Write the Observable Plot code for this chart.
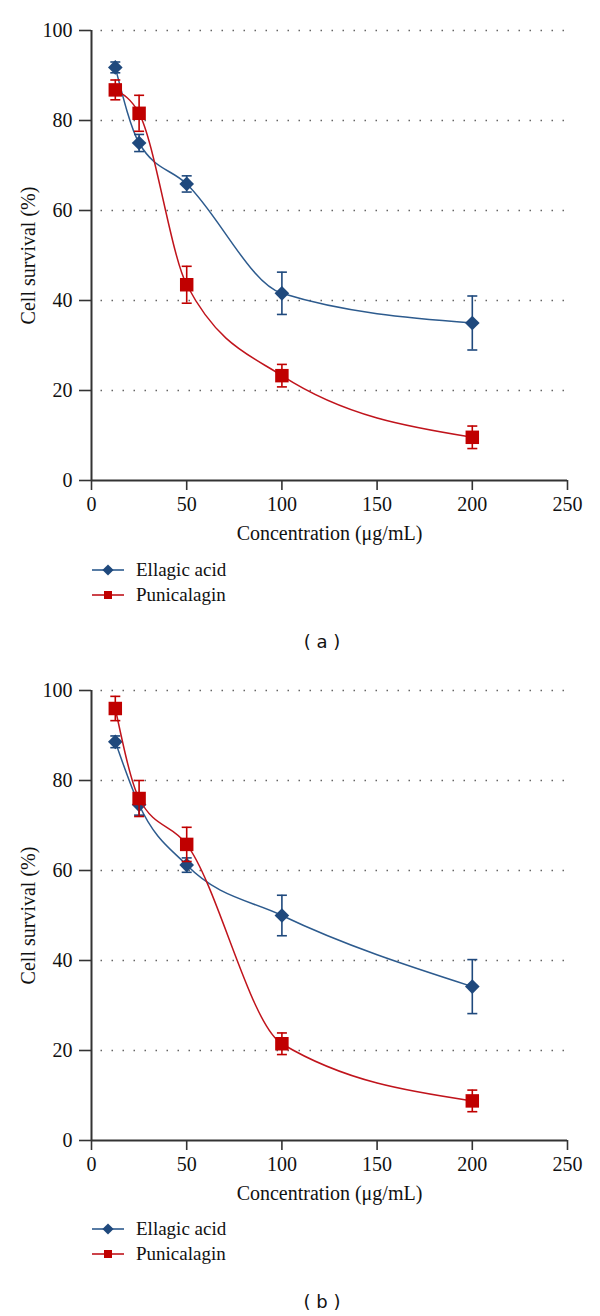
<!DOCTYPE html>
<html>
<head>
<meta charset="utf-8">
<script src="https://cdn.jsdelivr.net/npm/d3@7"></script>
<script src="https://cdn.jsdelivr.net/npm/@observablehq/plot@0.6"></script>
<style>
  body { margin: 0; background: #fff; }
  #root { position: relative; width: 600px; height: 1316px; overflow: hidden; }
  .panel { position: absolute; left: 0; width: 600px; height: 659px; }
  .panel > svg.plot { position: absolute; left: 0; top: 0; }
  .legend { position: absolute; left: 92px; top: 557px; font-family: "Liberation Serif", "DejaVu Serif", serif; font-size: 19px; color: #111; }
  .item { display: flex; align-items: center; height: 25px; }
  .item svg { margin-right: 12px; }
  .caption { position: absolute; left: 282px; width: 80px; top: 631px; text-align: center; font-family: "DejaVu Sans", sans-serif; font-size: 18px; color: #111; white-space: pre; }
</style>
</head>
<body>
<div id="root"></div>
<script>
// ---- Data ----
const concentrations = [12.5, 25, 50, 100, 200];           // µg/mL
const seriesNames = ["Ellagic acid", "Punicalagin"];
const xTicks = [0, 50, 100, 150, 200, 250];
const yTicks = [0, 20, 40, 60, 80, 100];
const panelLabels = ["( a )", "( b )"];

// panel (a)
const aEllagic    = [91.8, 75.0, 65.9, 41.6, 35.0];
const aEllagicErr = [1.2, 1.9, 1.8, 4.7, 6.0];
const aPunic      = [86.8, 81.6, 43.5, 23.3, 9.6];
const aPunicErr   = [2.2, 4.0, 4.1, 2.5, 2.5];
// panel (b)
const bEllagic    = [88.6, 74.6, 61.2, 50.0, 34.2];
const bEllagicErr = [1.3, 2.3, 1.6, 4.5, 6.0];
const bPunic      = [96.0, 76.0, 65.8, 21.5, 8.8];
const bPunicErr   = [2.7, 4.0, 3.8, 2.4, 2.4];

// ---- Styles ----
const COLORS = { "Ellagic acid": { mark: "#1f497d", line: "#2d5b8e" },
                 "Punicalagin":  { mark: "#c00000", line: "#c0141c" } };
const SYMBOLS = { "Ellagic acid": "diamond2", "Punicalagin": "square" };
const RADII = { "Ellagic acid": 6.6, "Punicalagin": 7.6 };

const capSymbol = { draw(ctx, size) { const w = 5; ctx.moveTo(-w, 0); ctx.lineTo(w, 0); } };

function rowsFor(values, errs, name) {
  return concentrations.map((c, i) => ({ x: c, y: values[i], err: errs[i], series: name }));
}

function seriesMarks(rows, name) {
  const c = COLORS[name];
  const caps = rows.flatMap(d => [{ x: d.x, y: d.y + d.err }, { x: d.x, y: d.y - d.err }]);
  return [
    Plot.line(rows, { x: "x", y: "y", stroke: c.line, strokeWidth: 1.5, curve: "monotone-x" }),
    Plot.ruleX(rows, { x: "x", y1: d => d.y - d.err, y2: d => d.y + d.err, stroke: c.mark, strokeWidth: 1.6 }),
    Plot.dot(caps, { x: "x", y: "y", symbol: capSymbol, r: 3, stroke: c.mark, strokeWidth: 1.6, fill: "none" }),
    Plot.dot(rows, { x: "x", y: "y", symbol: SYMBOLS[name], r: RADII[name], fill: c.mark, stroke: "none" })
  ];
}

function makePlot(ell, ellErr, pun, punErr) {
  const ellRows = rowsFor(ell, ellErr, seriesNames[0]);
  const punRows = rowsFor(pun, punErr, seriesNames[1]);
  return Plot.plot({
    width: 600,
    height: 550,
    marginTop: 30,
    marginBottom: 70,
    marginLeft: 91,
    marginRight: 33,
    style: { fontFamily: "'Liberation Serif', 'DejaVu Serif', serif", fontSize: "20px", color: "#111", background: "#fff" },
    x: { domain: [0, 250] },
    y: { domain: [0, 100] },
    marks: [
      Plot.gridY(yTicks.filter(t => t > 0), { stroke: "#666", strokeOpacity: 1, strokeWidth: 1.5, strokeDasharray: "1.5,9.5", strokeDashoffset: 1.5 }),
      Plot.axisX({ ticks: xTicks, tickSize: 10, tickPadding: 6, stroke: "#333", strokeWidth: 1.6, fontSize: 20,
                   label: "Concentration (μg/mL)", labelAnchor: "center", labelOffset: 59, labelArrow: "none" }),
      Plot.axisY({ ticks: yTicks, tickSize: 12, tickPadding: 7, stroke: "#333", strokeWidth: 1.6, fontSize: 20,
                   label: "Cell survival (%)", labelAnchor: "center", labelOffset: 71, labelArrow: "none" }),
      Plot.ruleY([0], { stroke: "#333", strokeWidth: 2 }),
      Plot.ruleX([0], { stroke: "#333", strokeWidth: 2 }),
      ...seriesMarks(ellRows, seriesNames[0]),
      ...seriesMarks(punRows, seriesNames[1])
    ]
  });
}

function swatch(name) {
  const c = COLORS[name];
  const ns = "http://www.w3.org/2000/svg";
  const svg = document.createElementNS(ns, "svg");
  svg.setAttribute("width", 32); svg.setAttribute("height", 16);
  const line = document.createElementNS(ns, "line");
  line.setAttribute("x1", 0); line.setAttribute("x2", 32); line.setAttribute("y1", 8); line.setAttribute("y2", 8);
  line.setAttribute("stroke", c.line); line.setAttribute("stroke-width", 1.6);
  svg.appendChild(line);
  const p = document.createElementNS(ns, "path");
  p.setAttribute("d", d3.symbol(name === "Ellagic acid" ? d3.symbolDiamond2 : d3.symbolSquare, name === "Ellagic acid" ? 80 : 64)());
  p.setAttribute("transform", "translate(16,8)");
  p.setAttribute("fill", c.mark);
  svg.appendChild(p);
  return svg;
}

const root = document.getElementById("root");
const panels = [
  [aEllagic, aEllagicErr, aPunic, aPunicErr],
  [bEllagic, bEllagicErr, bPunic, bPunicErr]
];
panels.forEach((p, i) => {
  const div = document.createElement("div");
  div.className = "panel";
  div.style.top = (i * 659.5) + "px";
  const chart = makePlot(...p);
  chart.classList.add("plot");
  div.appendChild(chart);
  const legend = document.createElement("div");
  legend.className = "legend";
  seriesNames.forEach(n => {
    const it = document.createElement("div");
    it.className = "item";
    it.appendChild(swatch(n));
    const t = document.createElement("span");
    t.textContent = n;
    it.appendChild(t);
    legend.appendChild(it);
  });
  div.appendChild(legend);
  const cap = document.createElement("div");
  cap.className = "caption";
  cap.textContent = panelLabels[i];
  div.appendChild(cap);
  root.appendChild(div);
});
</script>
</body>
</html>
